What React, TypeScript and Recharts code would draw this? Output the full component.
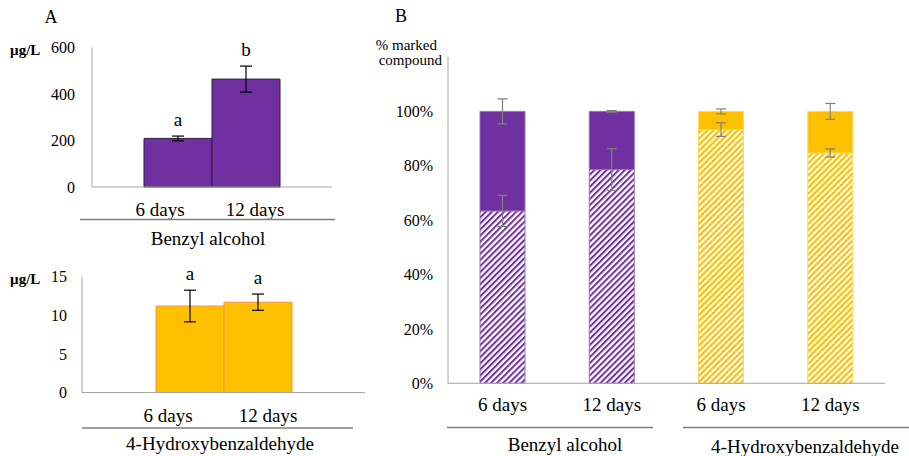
import React from 'react';
import { BarChart, Bar, XAxis, YAxis, ErrorBar, Cell, LabelList } from 'recharts';

// panel A: concentrations (µg/L)
const dayLabels = ['6 days', '12 days'];
const benzylConc = [209, 464];
const benzylErr = [10, 56];
const benzylLetters = ['a', 'b'];
const hbaConc = [11.2, 11.7];
const hbaErr = [2.05, 1.05];
const hbaLetters = ['a', 'a'];

// panel B: share of marked compound
const bCategories = ['6 days', '12 days', '6 days', '12 days'];
const bCompound = ['benzyl', 'benzyl', 'hba', 'hba'];
const markedShare = [0.634, 0.786, 0.933, 0.847];
const markedErr = [0.057, 0.077, 0.025, 0.015];
const unmarkedErr = [0.046, 0.003, 0.009, 0.029];

const benzylData = dayLabels.map((d, i) => ({ day: d, value: benzylConc[i], err: benzylErr[i] }));
const hbaData = dayLabels.map((d, i) => ({ day: d, value: hbaConc[i], err: hbaErr[i] }));
const shareData = bCategories.map((d, i) => ({
  idx: i,
  marked: markedShare[i],
  unmarked: 1 - markedShare[i],
  markedErr: markedErr[i],
  unmarkedErr: unmarkedErr[i],
}));

const PURPLE = '#7030A0';
const ORANGE = '#FFC000';
const AXIS = '#A6A6A6';
const FONT = 'Liberation Serif';

const makeLetterLabel = (conc: number[], err: number[], letters: string[]) => (props: any) => {
  const { x, y, width, height, index } = props;
  const pxPerUnit = Number(height) / conc[index];
  const top = Number(y) - err[index] * pxPerUnit;
  return (
    <text x={Number(x) + Number(width) / 2} y={top - 10} textAnchor="middle" fontSize={19} fill="#000"
      style={{ fontFamily: FONT }}>
      {letters[index]}
    </text>
  );
};

const makeShiftTick = (shift: number[]) => (props: any) => {
  const { x, y, payload, index } = props;
  return (
    <text x={x + shift[index]} y={y} dy="0.71em" textAnchor="middle" fontSize={19} fill="#000"
      style={{ fontFamily: FONT }}>
      {payload.value}
    </text>
  );
};

const yTick = { fill: '#000', fontSize: 16, style: { fontFamily: FONT } };
const txt = { fill: '#000', style: { fontFamily: FONT } };

const App: React.FC = () => {
  return (
    <div style={{ position: 'absolute', left: 0, top: 0, width: 909, height: 456, background: '#fff', fontFamily: FONT }}>
      <svg width={0} height={0} style={{ position: 'absolute' }}>
        <defs>
          <pattern id="hatchPurple" patternUnits="userSpaceOnUse" width={4.3} height={4.3} patternTransform="rotate(45)">
            <rect width={4.3} height={4.3} fill="#fff" />
            <rect width={2} height={4.3} fill={PURPLE} />
          </pattern>
          <pattern id="hatchOrange" patternUnits="userSpaceOnUse" width={4.3} height={4.3} patternTransform="rotate(45)">
            <rect width={4.3} height={4.3} fill="#fff" />
            <rect width={2.2} height={4.3} fill={ORANGE} />
          </pattern>
        </defs>
      </svg>

      {/* A - benzyl alcohol */}
      <div style={{ position: 'absolute', left: 0, top: 0 }}>
        <BarChart width={340} height={230} data={benzylData} barCategoryGap={0} margin={{ top: 47.5, right: 8, bottom: 13, left: 0 }}>
          <XAxis dataKey="day" stroke={AXIS} tickLine={false} height={30} tickSize={6} tickMargin={10}
            padding={{ left: 52, right: 52 }} tick={makeShiftTick([-18, 9])} />
          <YAxis width={92} domain={[0, 600]} ticks={[0, 200, 400, 600]} stroke={AXIS} tickLine={false}
            tickSize={6} tickMargin={11} tick={yTick} />
          <Bar dataKey="value" fill={PURPLE} stroke="#2E1A47" strokeWidth={1} isAnimationActive={false}>
            <ErrorBar dataKey="err" width={6} stroke="#000" strokeWidth={1.2} />
            <LabelList content={makeLetterLabel(benzylConc, benzylErr, benzylLetters)} />
          </Bar>
        </BarChart>
      </div>

      {/* A - 4-hydroxybenzaldehyde */}
      <div style={{ position: 'absolute', left: 0, top: 230 }}>
        <BarChart width={380} height={226} data={hbaData} barCategoryGap={0} margin={{ top: 46.7, right: 15, bottom: 33.5, left: 0 }}>
          <XAxis dataKey="day" stroke={AXIS} tickLine={false} height={30} tickSize={6} tickMargin={10}
            padding={{ left: 74, right: 73 }} tick={makeShiftTick([-22, 10])} />
          <YAxis width={82} domain={[0, 15]} ticks={[0, 5, 10, 15]} stroke={AXIS} tickLine={false}
            tickSize={6} tickMargin={9} tick={yTick} />
          <Bar dataKey="value" fill={ORANGE} stroke="#F79646" strokeWidth={1} isAnimationActive={false}>
            <ErrorBar dataKey="err" width={6} stroke="#000" strokeWidth={1.2} />
            <LabelList content={makeLetterLabel(hbaConc, hbaErr, hbaLetters)} />
          </Bar>
        </BarChart>
      </div>

      {/* B - marked share */}
      <div style={{ position: 'absolute', left: 380, top: 0 }}>
        <BarChart width={529} height={456} data={shareData} barSize={45} margin={{ top: 57, right: 24, bottom: 42.7, left: 0 }}>
          <XAxis dataKey="idx" stroke={AXIS} tickLine={false} height={30} tickSize={6} tickMargin={8}
            tick={{ fill: '#000', fontSize: 19, style: { fontFamily: FONT } }} tickFormatter={(v: number) => bCategories[v]} />
          <YAxis width={68} domain={[0, 1.2]} ticks={[0, 0.2, 0.4, 0.6, 0.8, 1]} stroke={AXIS} tickLine={false}
            tickSize={6} tickMargin={9} tick={yTick} tickFormatter={(v: number) => `${Math.round(v * 100)}%`} />
          <Bar dataKey="marked" stackId="s" strokeWidth={1} isAnimationActive={false}>
            {shareData.map((d, i) => (
              <Cell key={i} fill={bCompound[i] === 'benzyl' ? 'url(#hatchPurple)' : 'url(#hatchOrange)'}
                stroke={bCompound[i] === 'benzyl' ? '#9B6BC4' : '#FFD966'} />
            ))}
            <ErrorBar dataKey="markedErr" width={5} stroke="#7F7F7F" strokeWidth={1.2} />
          </Bar>
          <Bar dataKey="unmarked" stackId="s" strokeWidth={1} isAnimationActive={false}>
            {shareData.map((d, i) => (
              <Cell key={i} fill={bCompound[i] === 'benzyl' ? PURPLE : ORANGE}
                stroke={bCompound[i] === 'benzyl' ? '#9B6BC4' : '#FFD966'} />
            ))}
            <ErrorBar dataKey="unmarkedErr" width={5} stroke="#7F7F7F" strokeWidth={1.2} />
          </Bar>
        </BarChart>
      </div>

      {/* titles, units and group labels */}
      <svg width={909} height={456} style={{ position: 'absolute', left: 0, top: 0, pointerEvents: 'none' }}>
        <text {...txt} x={51} y={23} fontSize={18} textAnchor="middle">A</text>
        <text {...txt} x={401} y={22} fontSize={18} textAnchor="middle">B</text>
        <text {...txt} x={10} y={54.5} fontSize={15} fontWeight="bold">µg/L</text>
        <text {...txt} x={10} y={284} fontSize={15} fontWeight="bold">µg/L</text>
        <text {...txt} x={437} y={50} fontSize={15} textAnchor="end">% marked</text>
        <text {...txt} x={442} y={65} fontSize={15} textAnchor="end">compound</text>
        <text {...txt} x={208} y={245} fontSize={19} textAnchor="middle">Benzyl alcohol</text>
        <text {...txt} x={220} y={450} fontSize={19} textAnchor="middle">4-Hydroxybenzaldehyde</text>
        <text {...txt} x={565} y={451} fontSize={19} textAnchor="middle">Benzyl alcohol</text>
        <text {...txt} x={805} y={452.5} fontSize={19} textAnchor="middle">4-Hydroxybenzaldehyde</text>
        <g stroke="#7F7F7F" strokeWidth={1.5}>
          <line x1={80} y1={219.5} x2={335} y2={219.5} />
          <line x1={82} y1={428} x2={353} y2={428} />
          <line x1={447} y1={427.5} x2={653} y2={427.5} />
          <line x1={683} y1={427.5} x2={909} y2={427.5} />
        </g>
      </svg>
    </div>
  );
};

export default App;
